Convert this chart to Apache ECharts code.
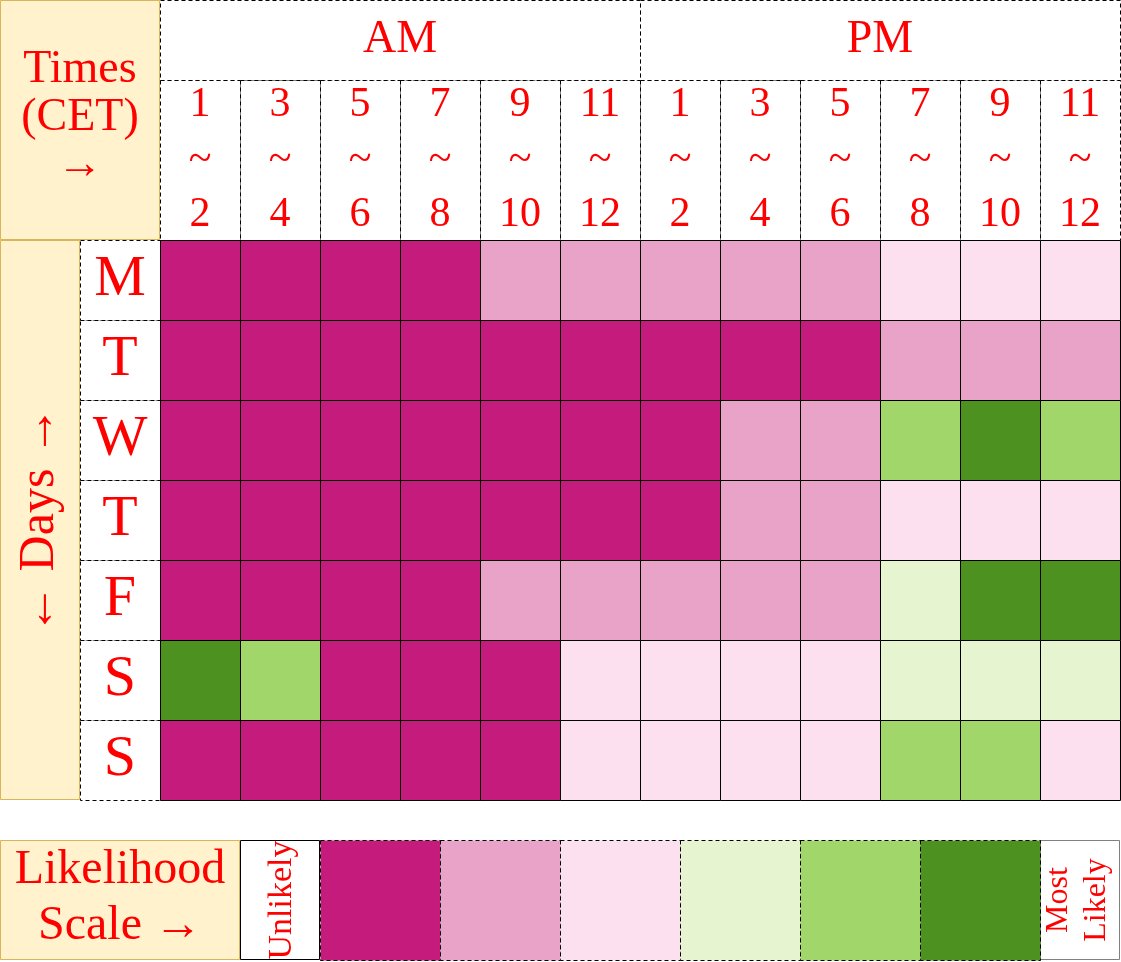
<!DOCTYPE html>
<html><head><meta charset="utf-8">
<script src="https://cdn.jsdelivr.net/npm/echarts@6/dist/echarts.min.js"></script>
<style>html,body{margin:0;padding:0;background:#fff}#c{width:1121px;height:962px}</style>
</head><body><div id="c"></div>
<script>
const halves = ['AM', 'PM'];
const hourLabels = ['1\n~\n2','3\n~\n4','5\n~\n6','7\n~\n8','9\n~\n10','11\n~\n12',
                    '1\n~\n2','3\n~\n4','5\n~\n6','7\n~\n8','9\n~\n10','11\n~\n12'];
const days = ['M', 'T', 'W', 'T', 'F', 'S', 'S'];
// likelihood level 1 (unlikely) .. 6 (most likely), rows = days, cols = hour slots
const likelihood = [
  [1,1,1,1,2,2,2,2,2,3,3,3],
  [1,1,1,1,1,1,1,1,1,2,2,2],
  [1,1,1,1,1,1,1,2,2,5,6,5],
  [1,1,1,1,1,1,1,2,2,3,3,3],
  [1,1,1,1,2,2,2,2,2,4,6,6],
  [6,5,1,1,1,3,3,3,3,4,4,4],
  [1,1,1,1,1,3,3,3,3,5,5,3]
];
const levels = [1,2,3,4,5,6];
const levelColors = ['#C51B7D','#E9A3C9','#FDE0EF','#E6F5D0','#A1D76A','#4D9221'];

const FONT = '"Liberation Serif", serif';
const RED = '#FF0000';

const heatData = [];
likelihood.forEach((row, r) => row.forEach((v, c) => heatData.push([c, r, v])));

function crispRect(api) {
  const c = api.coord([api.value(0), api.value(1)]);
  const s = api.size([1, 1]);
  const x0 = Math.round(c[0] - s[0] / 2), y0 = Math.round(c[1] - s[1] / 2);
  const x1 = Math.round(c[0] + s[0] / 2), y1 = Math.round(c[1] + s[1] / 2);
  return { c: c, shape: { x: x0 + 0.5, y: y0 + 0.5, width: x1 - x0, height: y1 - y0 } };
}
function labelCells(labels, fontSize, lineHeight) {
  return function (params, api) {
    const r = crispRect(api);
    return {
      type: 'group',
      children: [
        { type: 'rect', shape: r.shape,
          style: { fill: '#fff', stroke: '#000', lineWidth: 1, lineDash: [4, 3] } },
        { type: 'text', x: r.c[0], y: r.c[1],
          style: { text: labels[params.dataIndex], align: 'center', verticalAlign: 'middle',
                   fontFamily: FONT, fontSize: fontSize, lineHeight: lineHeight, fill: RED } }
      ]
    };
  };
}
function heatCells(params, api) {
  const r = crispRect(api);
  return { type: 'rect', shape: r.shape,
           style: { fill: api.visual('color'), stroke: '#000', lineWidth: 1 } };
}
function legendCells(params, api) {
  const r = crispRect(api);
  return { type: 'rect', shape: r.shape,
           style: { fill: levelColors[levels.indexOf(api.value(2))], stroke: '#000', lineWidth: 1, lineDash: [4, 3] } };
}

const hiddenCat = (data, extra) => Object.assign({ type: 'category', data: data, show: false }, extra || {});

const option = {
  animation: false,
  grid: [
    { left: 160, top: 0, width: 960, height: 80 },
    { left: 160, top: 80, width: 960, height: 160 },
    { left: 80, top: 240, width: 80, height: 560 },
    { left: 160, top: 240, width: 960, height: 560 },
    { left: 320, top: 840, width: 720, height: 120 }
  ],
  xAxis: [
    hiddenCat(halves, { gridIndex: 0 }),
    hiddenCat(hourLabels.map((h, i) => i), { gridIndex: 1 }),
    hiddenCat(['d'], { gridIndex: 2 }),
    hiddenCat(hourLabels.map((h, i) => i), { gridIndex: 3 }),
    hiddenCat(levels, { gridIndex: 4 })
  ],
  yAxis: [
    hiddenCat(['a'], { gridIndex: 0 }),
    hiddenCat(['h'], { gridIndex: 1 }),
    hiddenCat(days.map((d, i) => i), { gridIndex: 2, inverse: true }),
    hiddenCat(days.map((d, i) => i), { gridIndex: 3, inverse: true }),
    hiddenCat(['l'], { gridIndex: 4 })
  ],
  visualMap: {
    type: 'piecewise', show: false, seriesIndex: 3, dimension: 2,
    pieces: levels.map((v, i) => ({ value: v, color: levelColors[i] }))
  },
  series: [
    { type: 'custom', xAxisIndex: 0, yAxisIndex: 0, data: halves.map((h, i) => [i, 0]),
      renderItem: labelCells(halves, 46, 50) },
    { type: 'custom', xAxisIndex: 1, yAxisIndex: 1, data: hourLabels.map((h, i) => [i, 0]),
      renderItem: labelCells(hourLabels, 42, 55) },
    { type: 'custom', xAxisIndex: 2, yAxisIndex: 2, data: days.map((d, i) => [0, i]),
      renderItem: labelCells(days, 58, 60) },
    { type: 'custom', xAxisIndex: 3, yAxisIndex: 3, data: heatData, z: 3,
      renderItem: heatCells },
    { type: 'custom', xAxisIndex: 4, yAxisIndex: 4, data: levels.map((v, i) => [i, 0, v]),
      renderItem: legendCells }
  ],
  graphic: [
    { type: 'rect', shape: { x: 0.5, y: 0.5, width: 159, height: 239 }, style: { fill: '#FFF2CC', stroke: '#D6B656', lineWidth: 1 } },
    { type: 'text', x: 80, y: 118, style: { text: 'Times\n(CET)\n→', align: 'center', verticalAlign: 'middle', fontFamily: FONT, fontSize: 46, lineHeight: 48, fill: RED } },
    { type: 'rect', shape: { x: 0.5, y: 240.5, width: 79, height: 559 }, style: { fill: '#FFF2CC', stroke: '#D6B656', lineWidth: 1 } },
    { type: 'text', x: 40, y: 520, rotation: Math.PI / 2, style: { text: '← Days →', align: 'center', verticalAlign: 'middle', fontFamily: FONT, fontSize: 50, fill: RED } },
    { type: 'rect', shape: { x: 0.5, y: 840.5, width: 239, height: 119 }, style: { fill: '#FFF2CC', stroke: '#D6B656', lineWidth: 1 } },
    { type: 'text', x: 120, y: 898, style: { text: 'Likelihood\nScale →', align: 'center', verticalAlign: 'middle', fontFamily: FONT, fontSize: 48, lineHeight: 56, fill: RED } },
    { type: 'rect', shape: { x: 240.5, y: 840.5, width: 79, height: 119 }, style: { fill: '#fff', stroke: '#000', lineWidth: 1 } },
    { type: 'text', x: 282, y: 900, rotation: Math.PI / 2, style: { text: 'Unlikely', align: 'center', verticalAlign: 'middle', fontFamily: FONT, fontSize: 34, fill: RED } },
    { type: 'rect', shape: { x: 1040.5, y: 840.5, width: 79, height: 119 }, style: { fill: '#fff', stroke: '#808080', lineWidth: 1 } },
    { type: 'text', x: 1078, y: 900, rotation: Math.PI / 2, style: { text: 'Most\nLikely', align: 'center', verticalAlign: 'middle', fontFamily: FONT, fontSize: 32, lineHeight: 38, fill: RED } }
  ]
};
const chart = echarts.init(document.getElementById('c'), null, { renderer: 'canvas' });
chart.setOption(option);
</script></body></html>
